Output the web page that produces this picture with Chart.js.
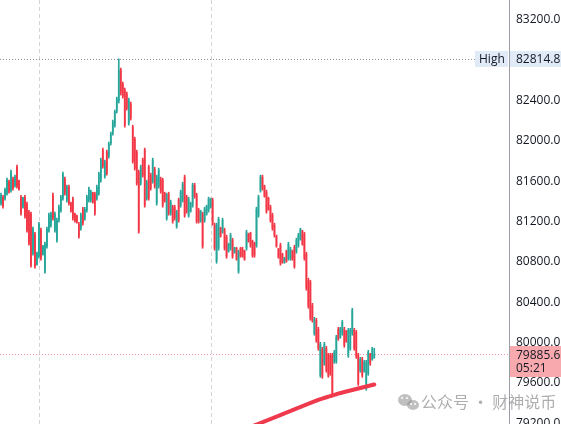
<!DOCTYPE html>
<html><head><meta charset="utf-8">
<script src="https://cdn.jsdelivr.net/npm/chart.js@4.4.1/dist/chart.umd.min.js"></script>
<style>html,body{margin:0;padding:0;background:#fff;overflow:hidden}#wrap{position:relative;width:561px;height:424px}</style>
</head><body><div id="wrap"><canvas id="c" width="561" height="424"></canvas></div>
<script>
const opens = [81383,81442,81433,81482,81591,81512,81621,81562,81740,81601,
81442,81343,81442,81373,81293,81274,80887,81075,80778,80857,
81115,80877,80708,80956,81115,81165,81462,81115,81016,81214,
81314,81433,81621,81413,81542,81383,81423,81274,81254,81174,
81135,81323,81234,81314,81413,81413,81482,81472,81433,81482,
81611,81909,81651,81889,81850,81979,82078,82157,82297,82396,
82700,82565,82505,82465,82177,82366,82137,82018,81889,81691,
81582,81810,81909,81433,81740,81661,81601,81720,81383,81552,
81621,81611,81482,81234,81472,81284,81343,81343,81155,81413,
81363,81413,81641,81442,81264,81304,81363,81561,81462,81313,
81204,81274,81214,81274,81314,81343,81413,81165,80807,80937,
81135,81105,81115,81046,80907,80937,81016,80892,80936,80708,
80936,80926,80907,80937,81075,81085,81006,80986,80966,81264,
81512,81641,81552,81492,81433,81343,81264,81165,81056,80926,
80966,80877,80797,80907,80837,80837,80907,80946,80907,80966,
81026,81105,81075,80877,80619,80599,80370,80093,80221,80132,
79676,79934,79795,79944,79874,79874,79874,79815,79815,80132,
80053,80093,80132,80112,79874,79944,80093,80122,80102,79874,
79726,79834,79716,79547,79696,79884,79835,79854];
const highs = [81482,81462,81532,81631,81611,81711,81641,81661,81760,81611,
81462,81443,81462,81393,81313,81294,81145,81095,80897,81194,
81135,80966,80996,81145,81284,81294,81482,81294,81234,81363,
81462,81691,81641,81562,81562,81393,81443,81284,81264,81194,
81284,81343,81343,81462,81542,81512,81492,81492,81562,81691,
81830,81929,81810,81909,81989,82088,82207,82307,82435,82814.8,
82723,82584,82525,82485,82425,82386,82157,82038,81909,81711,
81760,81830,81929,81611,81760,81681,81830,81740,81661,81730,
81641,81631,81492,81482,81492,81413,81363,81363,81313,81433,
81512,81591,81661,81462,81443,81393,81581,81581,81482,81333,
81313,81294,81343,81363,81443,81433,81433,81185,81185,81244,
81145,81234,81135,81066,80986,81085,81036,80946,80946,80917,
80946,80946,80917,81115,81085,81095,81016,80996,81343,81462,
81661,81661,81562,81512,81443,81363,81284,81185,81066,80936,
80986,80887,80847,80917,80996,80946,80917,80966,81036,81085,
81135,81115,81095,80897,80639,80619,80390,80251,80241,80152,
80003,79954,80003,79964,79894,79894,79894,79924,80073,80152,
80152,80222,80152,80122,80142,80142,80341,80142,80122,79894,
79854,79854,79825,79825,79924,79894,79954,79944];
const lows = [81363,81333,81413,81462,81482,81492,81512,81542,81532,81512,
81264,81333,81234,81095,80966,80748,80867,80738,80768,80837,
80817,80867,80688,80936,81095,81145,81214,81095,80996,81194,
81294,81413,81462,81393,81363,81294,81214,81194,81185,81036,
81115,81165,81214,81294,81393,81393,81383,81264,81413,81462,
81591,81730,81631,81661,81830,81959,82058,82137,82277,82376,
82455,82425,82137,82307,82157,82207,81780,81711,81562,81085,
81562,81641,81343,81413,81413,81512,81581,81532,81363,81532,
81482,81343,81393,81214,81264,81264,81185,81214,81135,81194,
81343,81393,81244,81284,81244,81294,81343,81433,81185,81185,
81194,80936,81194,81264,81294,81333,81165,80917,80787,80917,
81046,81085,80917,80837,80897,80917,80837,80887,80817,80688,
80847,80847,80817,80917,80996,80946,80847,80847,80946,81244,
81492,81512,81443,81284,81313,81194,81115,81046,80946,80837,
80768,80787,80787,80797,80817,80817,80817,80738,80887,80946,
81016,80966,80817,80519,80341,80222,80202,80073,80003,79924,
79656,79646,79775,79706,79656,79676,79477,79795,79795,80023,
80043,80073,79954,80003,79854,79924,80073,79924,79844,79576,
79706,79656,79706,79527,79676,79775,79825,79844];
const closes = [81462,81353,81512,81611,81502,81691,81532,81641,81552,81522,
81284,81433,81254,81115,80986,80768,81125,80758,80887,81174,
80837,80956,80976,81125,81264,81274,81234,81274,81214,81343,
81442,81671,81482,81542,81383,81304,81234,81204,81195,81056,
81264,81185,81323,81442,81522,81492,81393,81284,81542,81671,
81810,81750,81790,81681,81969,82068,82187,82287,82415,82700,
82475,82445,82157,82327,82405,82227,81800,81731,81582,81105,
81740,81661,81363,81591,81433,81532,81810,81552,81641,81710,
81502,81363,81403,81462,81284,81393,81205,81234,81293,81214,
81492,81571,81264,81304,81423,81383,81561,81453,81205,81205,
81303,80956,81323,81353,81423,81423,81185,80937,81165,81224,
81056,81214,80937,80857,80976,81065,80857,80941,80827,80897,
80857,80857,80827,81095,81006,80966,80867,80867,81323,81442,
81641,81532,81453,81304,81323,81214,81135,81066,80956,80847,
80788,80797,80837,80807,80976,80926,80827,80758,81016,81065,
81125,80976,80837,80539,80361,80242,80222,80231,80023,79944,
79983,79666,79983,79726,79676,79696,79497,79904,80053,80043,
80142,80202,79974,80013,80122,80122,80321,79944,79864,79596,
79834,79676,79805,79805,79904,79795,79934,79885.6];
const maStart = 118;
const maValues = [79100,79110,79120,79130,79135,79144,79152,79160,79170,79180,
79187,79194,79202,79210,79218,79226,79234,79242,79250,79258,
79266,79274,79282,79290,79298,79306,79314,79322,79330,79338,
79346,79354,79362,79370,79378,79386,79394,79402,79410,79418,
79425,79432,79439,79445,79452,79458,79464,79470,79476,79482,
79488,79494,79500,79505,79510,79515,79520,79525,79530,79535,
79540,79545,79550,79555,79560,79565,79570,79575,79580,79585];
const yTicks = [79200,79600,80000,80400,80800,81200,81600,82000,82400,82800,83200];
const yMin = 79193, yMax = 83398;
const timeGridSlots = [19, 105];
const highLabel = 'High';
const highValue = 82814.8;
const lastPrice = 79885.6;
const countdown = '05:21';
const watermark = '公众号 · 财神说币';
const slotCount = 255;

const labels = Array.from({length: slotCount}, (_, i) => String(i));
const upColor = '#26a69a', downColor = '#f23645';
const candleColors = opens.map((o, i) => closes[i] >= o ? upColor : downColor);
const wickData = lows.map((l, i) => [l, highs[i]]);
const bodyData = opens.map((o, i) => [o, closes[i]]);
const maData = labels.map((_, i) => (i >= maStart && i - maStart < maValues.length) ? maValues[i - maStart] : null);

const FONT = '"Open Sans", Roboto, sans-serif';
const overlay = {
  id: 'overlay',
  beforeDatasetsDraw(chart) {
    const {ctx, chartArea: a, scales: {x, y}} = chart;
    ctx.save();
    ctx.lineWidth = 1;
    ctx.strokeStyle = '#d4d4d4';
    ctx.setLineDash([4, 3]);
    timeGridSlots.forEach(s => {
      const px = Math.round(x.getPixelForValue(s)) + 0.5;
      ctx.beginPath(); ctx.moveTo(px, a.top); ctx.lineTo(px, a.bottom); ctx.stroke();
    });
    const hy = Math.round(y.getPixelForValue(highValue)) + 0.5;
    ctx.strokeStyle = '#8a8d96';
    ctx.setLineDash([1, 2]);
    ctx.beginPath(); ctx.moveTo(a.left, hy); ctx.lineTo(a.right - 34, hy); ctx.stroke();
    const py = Math.round(y.getPixelForValue(lastPrice)) + 0.5;
    ctx.strokeStyle = '#f39aa2';
    ctx.beginPath(); ctx.moveTo(a.left, py); ctx.lineTo(a.right, py); ctx.stroke();
    ctx.restore();
  },
  afterDraw(chart) {
    const {ctx, chartArea: a, scales: {y}, width} = chart;
    ctx.save();
    const hy = Math.round(y.getPixelForValue(highValue));
    ctx.fillStyle = '#e1ebf8';
    ctx.fillRect(a.right - 34, hy - 8, 33, 16);
    ctx.fillRect(a.right + 1, hy - 8, width - a.right - 1, 16);
    ctx.fillStyle = '#131722';
    ctx.font = '12px ' + FONT;
    ctx.textBaseline = 'middle';
    ctx.textAlign = 'left';
    ctx.fillText(highLabel, a.right - 30, hy + 0.5);
    ctx.fillText(highValue.toFixed(1), a.right + 7, hy + 0.5);
    const py = Math.round(y.getPixelForValue(lastPrice));
    ctx.fillStyle = '#f7a9ae';
    ctx.fillRect(a.right + 1, py - 8, width - a.right - 1, 31);
    ctx.fillStyle = '#131722';
    ctx.fillText(lastPrice.toFixed(1), a.right + 7, py + 2);
    ctx.fillText(countdown, a.right + 7, py + 15);
    // watermark
    ctx.globalAlpha = 0.55;
    ctx.fillStyle = '#8c8c8c';
    ctx.beginPath(); ctx.ellipse(405, 400, 7, 6, 0, 0, Math.PI * 2); ctx.fill();
    ctx.beginPath(); ctx.ellipse(413, 405, 6, 5, 0, 0, Math.PI * 2); ctx.fill();
    ctx.globalAlpha = 1;
    ctx.fillStyle = '#fff';
    [[402, 398], [407, 398], [411, 404], [415, 404]].forEach(([cx, cy]) => { ctx.beginPath(); ctx.arc(cx, cy, 1, 0, Math.PI * 2); ctx.fill(); });
    ctx.globalAlpha = 0.7;
    ctx.fillStyle = '#8c8c8c';
    ctx.font = '16px "Noto Sans CJK SC", sans-serif';
    ctx.textBaseline = 'middle';
    ctx.fillText(watermark, 421, 402);
    ctx.restore();
  }
};

new Chart(document.getElementById('c'), {
  type: 'bar',
  data: {
    labels,
    datasets: [
      {type: 'line', data: maData, borderColor: '#ee3a4c', borderWidth: 4, pointRadius: 0, tension: 0.3, order: 0, borderCapStyle: 'round'},
      {data: bodyData, backgroundColor: candleColors, barThickness: 1, grouped: false, order: 1, minBarLength: 1},
      {data: wickData, backgroundColor: candleColors, barThickness: 1, grouped: false, order: 2}
    ]
  },
  options: {
    responsive: false, animation: false, devicePixelRatio: 1,
    layout: {padding: 0},
    plugins: {legend: {display: false}, tooltip: {enabled: false}},
    scales: {
      x: {display: false, offset: true, grid: {display: false}},
      y: {
        position: 'right', min: yMin, max: yMax,
        afterBuildTicks: s => { s.ticks = yTicks.map(v => ({value: v})); },
        afterFit: s => { s.width = 52; s.paddingTop = 0; s.paddingBottom = 0; },
        grid: {display: false, drawTicks: false},
        border: {display: true, color: '#9a9da6', width: 1},
        ticks: {padding: 7, color: '#131722', font: {family: FONT, size: 12}, callback: v => Number(v).toFixed(1)}
      }
    }
  },
  plugins: [overlay]
});
</script></body></html>
